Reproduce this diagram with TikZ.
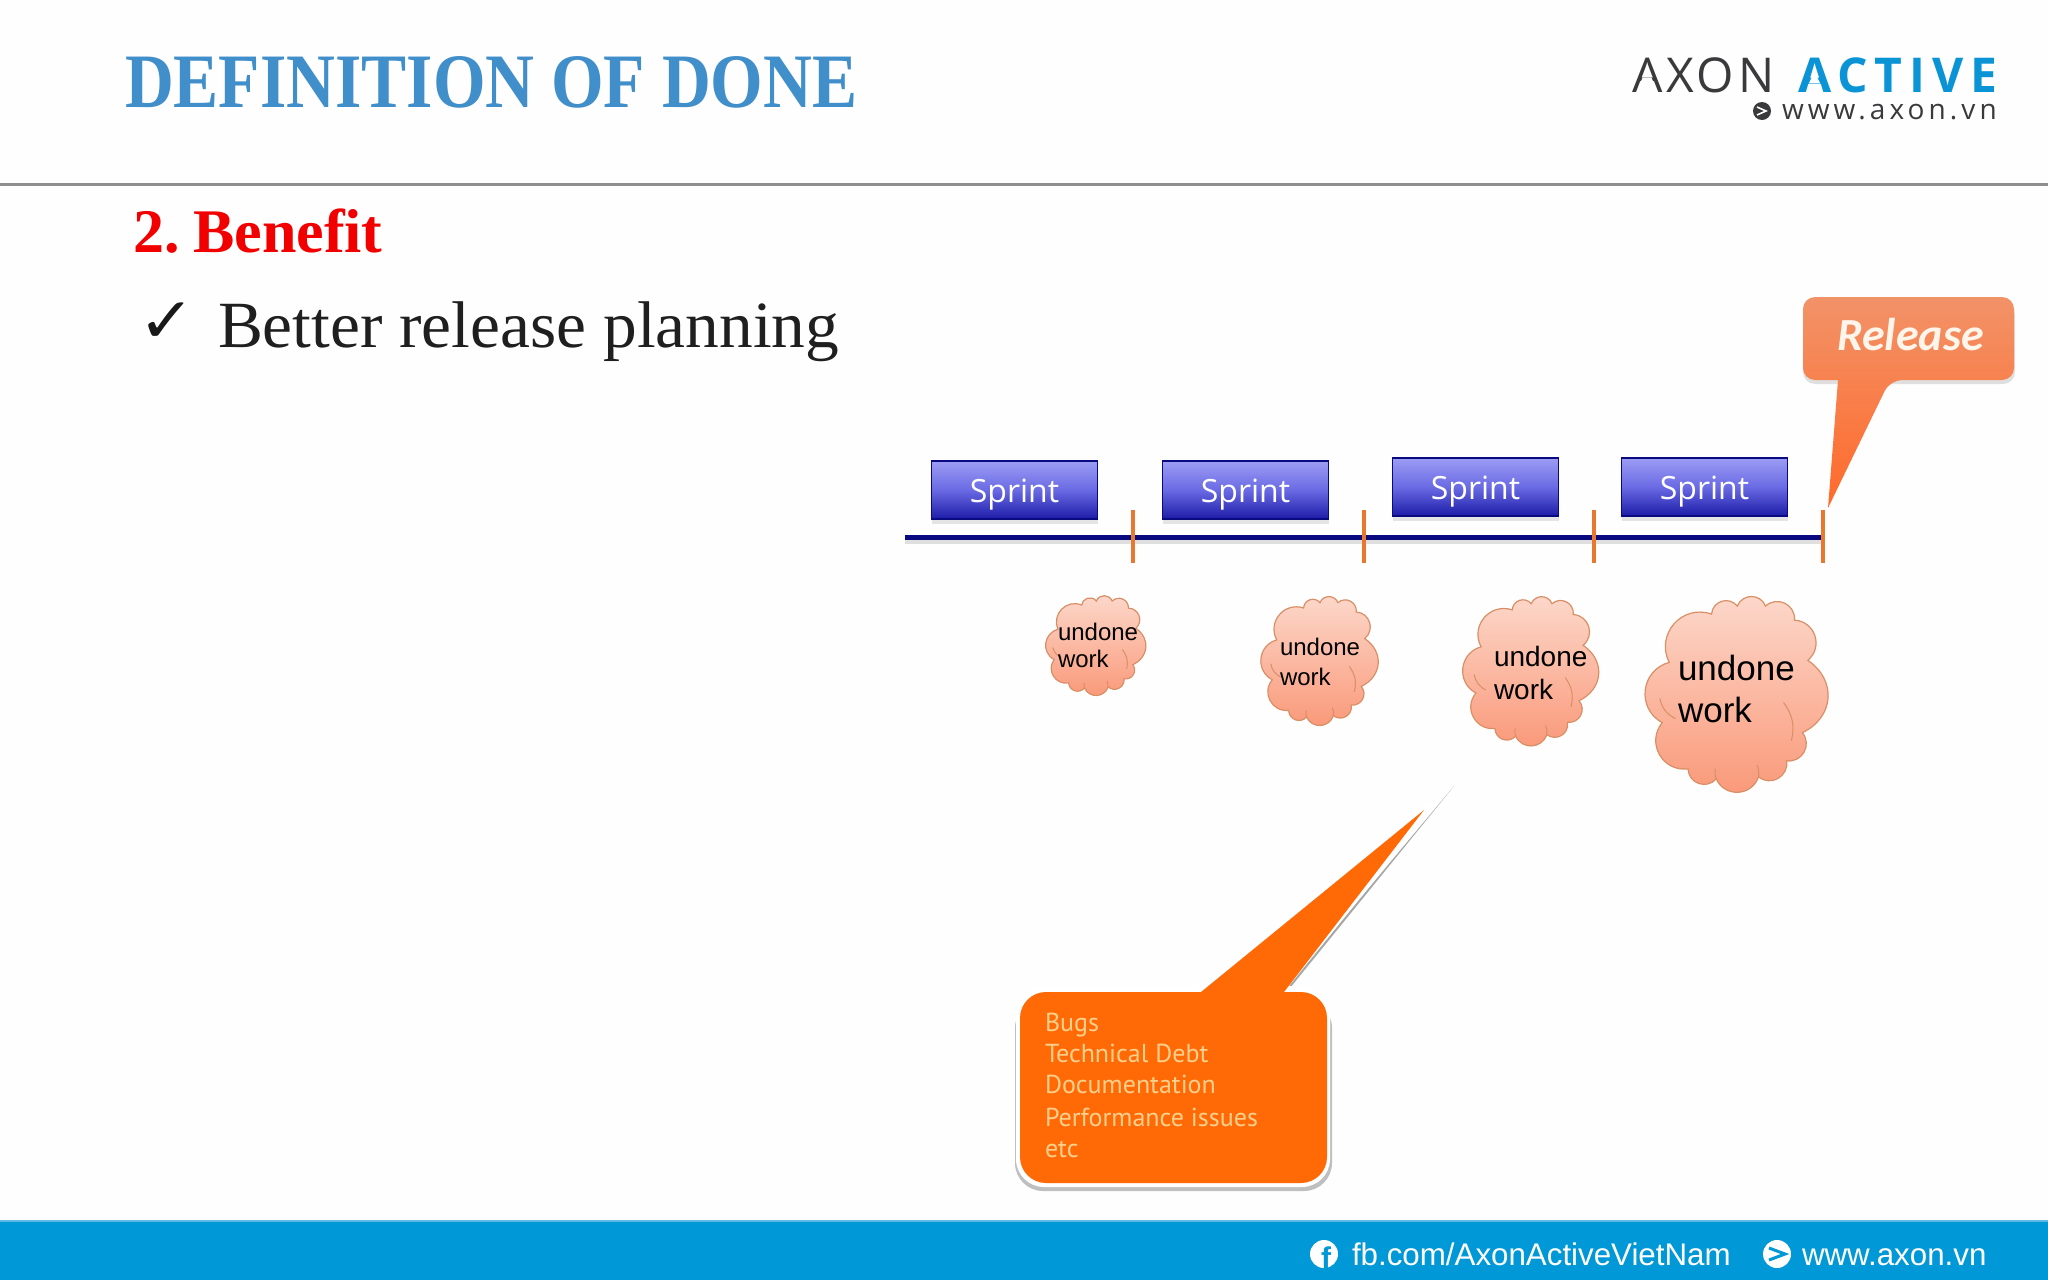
\documentclass[tikz,border=0pt]{standalone}
\usepackage{fontspec}
\setmainfont{Liberation Serif}
\newfontfamily\arialf{Liberation Sans}
\newfontfamily\openf{Open Sans}
\newfontfamily\ptf{PT Sans}
\newfontfamily\carl{Carlito}
\newfontfamily\dejaf{DejaVu Sans}
\newfontfamily\logoa[LetterSpace=8]{Open Sans}
\newfontfamily\logob[LetterSpace=14.5]{Open Sans}
\newfontfamily\logoc[LetterSpace=14.5]{Open Sans}
\usetikzlibrary{shadows}
\newcommand{\fsz}[1]{\fontsize{#1}{#1}\selectfont}
\newcommand{\sprinttxt}{\raisebox{-12pt}[0pt][0pt]{Sprint}}
\definecolor{bgc}{HTML}{FEFEFE}
\definecolor{barblue}{HTML}{0098D6}
\definecolor{barline}{HTML}{5FB8E4}
\definecolor{titleblue}{HTML}{408FCB}
\definecolor{logoblue}{HTML}{0A94D6}
\definecolor{logodark}{HTML}{3A3A3C}
\definecolor{rulegray}{HTML}{8E8E90}
\definecolor{navy}{HTML}{0A0A80}
\definecolor{tickor}{HTML}{E87830}
\definecolor{cotail}{HTML}{FF6A06}
\definecolor{coltext}{HTML}{FFD08C}
\definecolor{RelT}{HTML}{F29268}
\definecolor{RelB}{HTML}{FF6A2A}
\definecolor{sprT}{HTML}{9C9CF4}
\definecolor{sprM}{HTML}{6A6AE4}
\definecolor{sprB}{HTML}{1C1CA8}
\definecolor{cloudline}{HTML}{D98F66}
\definecolor{cloudtop}{HTML}{FCD8CB}
\definecolor{cloudbot}{HTML}{FA9878}
\tikzset{
  lbl/.style={inner sep=0pt,outer sep=0pt,anchor=base west},
  sprintbox/.style={rectangle,draw=navy,line width=1.2pt,minimum width=166pt,minimum height=58pt,
     inner sep=0pt,top color=sprT,bottom color=sprB,middle color=sprM,
     text=white,font=\openf\fsz{32},
     drop shadow={shadow xshift=0pt,shadow yshift=-5pt,opacity=.2}},
  tick/.style={draw=tickor,line width=4.5pt},
  cloudtxt/.style={lbl,text=black,align=left},
  puff/.style={bend left=68,looseness=1.25},
}
% #1,#2 = top-left corner, #3,#4 = width and height
\newcommand{\puffcloud}[4]{%
  \pgfmathsetmacro{\cux}{.88*#3}%
  \begin{scope}[shift={(#1+.06*#3,#2)},x=\cux pt,y=-#4pt]
    \path[draw=cloudline,line width=1.2pt,top color=cloudtop,bottom color=cloudbot]
      (.35,.09) to[puff] (.515,.05) to[puff] (.695,.05) to[puff] (.88,.12)
      to[puff] (.965,.32) to[puff,bend left=60] (.93,.68) to[puff] (.83,.82)
      to[puff] (.65,.90) to[puff] (.38,.91) to[puff] (.20,.86)
      to[puff] (.035,.63) to[puff] (.08,.33) to[puff] (.35,.09) -- cycle;
    \draw[cloudline,line width=1pt] (.81,.53) to[bend left=25] (.86,.72);
    \draw[cloudline,line width=1pt] (.02,.51) to[bend right=25] (.12,.61);
    \draw[cloudline,line width=1pt] (.38,.91) to[bend left=15] (.375,.86);
    \draw[cloudline,line width=1pt] (.65,.90) to[bend right=15] (.64,.84);
  \end{scope}}
\begin{document}
\begin{tikzpicture}[x=1pt,y=-1pt]
\useasboundingbox (0,0) rectangle (2048,1280);
\fill[bgc] (0,0) rectangle (2048,1280);
\fill[barblue] (0,1220) rectangle (2048,1280);
\fill[barline] (0,1220) rectangle (2048,1221.5);
\draw[rulegray,line width=3pt] (0,184) -- (2048,184);
% Title and body
\node[lbl,text=titleblue] (title) at (125,107) {\scalebox{.878}[1]{\bfseries\fsz{77}DEFINITION OF DONE}};
\node[lbl,text=red!95!black] (head) at (133,252) {\bfseries\fsz{62}2.\hspace{.22em}Benefit};
\node[lbl,text=black!90] (check) at (138,342) {\scalebox{1.08}[1]{\dejaf\fsz{63}✓}};
\node[lbl,text=black!88] (body) at (218,347) {\scalebox{1.021}[1]{\fsz{66}Better release planning}};
% Logo
\node[lbl,text=logodark] (axon) at (1632,92) {\logoa\fsz{48}AXON};
\node[lbl,text=logoblue] (active) at (1798,92) {\logob\bfseries\fsz{48}ACTIVE};
\fill[bgc] (1640.5,82.4) -- (1653.5,82.4) -- (1651.4,77.6) -- (1642.6,77.6) -- cycle;
\fill[bgc] (1808.8,83.4) -- (1820.2,83.4) -- (1816.9,76.6) -- (1812.1,76.6) -- cycle;
\node[lbl,text=logodark] (www) at (1782,119) {\logoc\fsz{28}www.axon.vn};
\node[circle,fill=logodark,minimum size=18pt,inner sep=0pt] (logodot) at (1762,111) {};
\draw[white,line width=1.6pt] (1757,107) -- (1766,111) -- (1757,115);
% Footer
\node[circle,fill=white,minimum size=28pt,inner sep=0pt] (fbicon) at (1324,1254) {};
\node[inner sep=0pt,text=barblue] (fbf) at (1326,1258) {\arialf\bfseries\fsz{30}f};
\node[lbl,text=white] (fb) at (1352,1265) {\arialf\fsz{31.3}fb.com/AxonActiveVietNam};
\node[circle,fill=white,minimum size=28pt,inner sep=0pt] (wwwicon) at (1777,1254) {};
\draw[barblue,line width=3pt] (1769,1248) -- (1785,1254) -- (1769,1260);
\node[lbl,text=white] (www2) at (1802,1265) {\arialf\fsz{31.3}www.axon.vn};
% Sprints
\node[sprintbox] (s1) at (1014.5,490) {\sprinttxt};
\node[sprintbox] (s2) at (1245.5,490) {\sprinttxt};
\node[sprintbox] (s3) at (1475.5,487) {\sprinttxt};
\node[sprintbox] (s4) at (1704.5,487) {\sprinttxt};
% Timeline
\coordinate (t0) at (905,537);
\coordinate (t4) at (1823,537);
\fill[black,opacity=.12] (905,539) rectangle (1823,544);
\draw[navy,line width=5pt] (t0) -- (t4);
\foreach \n/\x in {1/1133,2/1364,3/1594,4/1823}{
  \coordinate (k\n a) at (\x,510);
  \coordinate (k\n b) at (\x,563);
  \draw[tick] (k\n a) -- (k\n b);
}
% Release callout
\path[fill=black,opacity=.12,rounded corners=12pt] (1803,303) rectangle (2015,384);
\path[top color=RelT,bottom color=RelB,rounded corners=12pt]
  (1803,297) -- (2014,297) -- (2014,380) -- (1890,380) [sharp corners] -- (1828,508) -- (1838,380) [rounded corners=12pt] -- (1803,380) -- cycle;
\node[lbl,text=white!92!orange] (rel) at (1837,350) {\carl\bfseries\itshape\fsz{46}Release};
% Clouds
\puffcloud{1045}{596}{100}{101}
\puffcloud{1262}{596}{113}{133}
\puffcloud{1464}{596}{131}{154}
\puffcloud{1646}{596}{178}{201}
\node[cloudtxt] (u1) at (1058,640) {\arialf\fsz{24}undone};
\node[cloudtxt] (w1) at (1058,667) {\arialf\fsz{24}work};
\node[cloudtxt] (u2) at (1280,655) {\arialf\fsz{24}undone};
\node[cloudtxt] (w2) at (1280,685) {\arialf\fsz{24}work};
\node[cloudtxt] (u3) at (1494,666) {\arialf\fsz{28}undone};
\node[cloudtxt] (w3) at (1494,699) {\arialf\fsz{28}work};
\node[cloudtxt] (u4) at (1678,680) {\arialf\fsz{35}undone};
\node[cloudtxt] (w4) at (1678,722) {\arialf\fsz{35}work};
% Orange callout
\path[fill=black!25,rounded corners=28pt] (1015,1000) rectangle (1332,1191);
\fill[black!35] (1454,786) -- (1290,988) -- (1285,988) -- cycle;
\path[fill=white,rounded corners=28pt] (1016,986) rectangle (1330,1187);
\fill[white] (1195,992) -- (1424,805) -- (1448,790) -- (1284,992) -- cycle;
\path[fill=cotail]
  (1201,992) -- (1424,810) -- (1284,992) [rounded corners=26pt] -- (1327,992) -- (1327,1183) -- (1020,1183) -- (1020,992) [sharp corners] -- cycle;
\node[lbl,text=coltext] (l1) at (1045,1031) {\ptf\fsz{26}Bugs};
\node[lbl,text=coltext] (l2) at (1045,1062) {\ptf\fsz{26}Technical Debt};
\node[lbl,text=coltext] (l3) at (1045,1093) {\ptf\fsz{26}Documentation};
\node[lbl,text=coltext] (l4) at (1045,1126) {\ptf\fsz{26}Performance issues};
\node[lbl,text=coltext] (l5) at (1045,1157) {\ptf\fsz{26}etc};
\end{tikzpicture}
\end{document}
